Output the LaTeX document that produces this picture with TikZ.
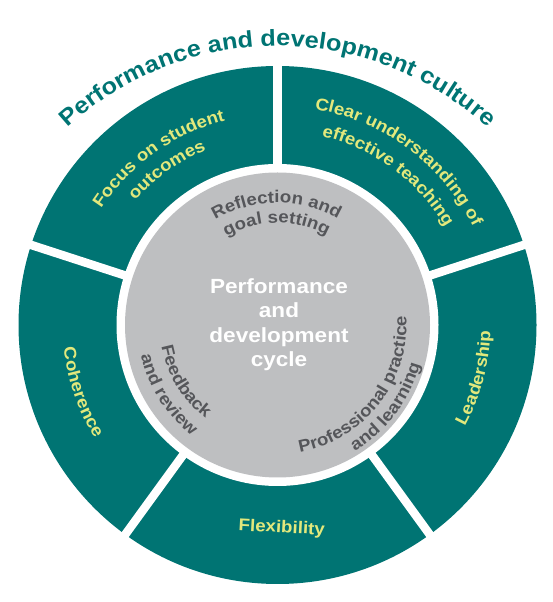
\documentclass[tikz,border=0pt]{standalone}
\usepackage{fontspec}
\usetikzlibrary{decorations.text,calc}
\newfontfamily\lab{Liberation Sans}[FakeStretch=1.1]
\definecolor{teal}{RGB}{0,116,115}
\definecolor{ringgrey}{RGB}{190,191,193}
\definecolor{segy}{RGB}{226,232,124}
\definecolor{darktxt}{RGB}{85,86,90}
\newcommand{\titlefmt}{\lab\bfseries\fontsize{23}{26}\selectfont\color{teal}}
\newcommand{\segfmt}{\lab\bfseries\fontsize{17}{20}\selectfont\color{segy}}
\newcommand{\innfmt}{\lab\bfseries\fontsize{17}{20}\selectfont\color{darktxt}}
\tikzset{
  curved/.style={decorate, decoration={text along path, text align=center, text={#1}}},
  gapline/.style={white, line width=8.5pt},
}
\begin{document}
\begin{tikzpicture}[x=1pt, y=1pt]
\useasboundingbox (0,0) rectangle (552,602);
\begin{scope}[shift={(277.5,277)}]
  % outer ring
  \fill[teal] (0,0) circle[radius=259];
  \foreach \a in {90,162,234,306,18} \draw[gapline] (0,0) -- (\a:275);
  \fill[white] (0,0) circle[radius=161];
  \fill[ringgrey] (0,0) circle[radius=152.5];
  % title
  \path[curved={|\titlefmt|Performance and development culture}]
    ($(0,-32)+(145:311)$) arc[start angle=145, end angle=35, radius=311];
  % segment labels
  \path[curved={|\segfmt|Focus on student}]
    (175.5:211) arc[start angle=175.5, end angle=75.5, radius=211];
  \path[curved={|\segfmt|outcomes}]
    (175.5:189) arc[start angle=175.5, end angle=75.5, radius=189];
  \path[curved={|\segfmt|Clear understanding of}]
    (103.5:219) arc[start angle=103.5, end angle=3.5, radius=219];
  \path[curved={|\segfmt|effective teaching}]
    (103.5:194) arc[start angle=103.5, end angle=3.5, radius=194];
  \path[curved={|\segfmt|Leadership}]
    (-65:213) arc[start angle=-65, end angle=35, radius=213];
  \path[curved={|\segfmt|Coherence}]
    (149:215) arc[start angle=149, end angle=249, radius=215];
  \node[font=\segfmt, rotate=-3, inner sep=0pt] (flex) at (4.2,-203.3) {Flexibility};
  % inner labels
  \path[curved={|\innfmt|Reflection and}]
    (160.5:122) arc[start angle=160.5, end angle=20.5, radius=122];
  \path[curved={|\innfmt|goal setting}]
    (160.5:102) arc[start angle=160.5, end angle=20.5, radius=102];
  \path[curved={|\innfmt|Professional practice}]
    (247:129) arc[start angle=247, end angle=397, radius=129];
  \path[curved={|\innfmt|and learning}]
    (248:148) arc[start angle=248, end angle=398, radius=148];
  \path[curved={|\innfmt|Feedback}]
    (146.5:118) arc[start angle=146.5, end angle=276.5, radius=118];
  \path[curved={|\innfmt|and review}]
    (147.5:140) arc[start angle=147.5, end angle=277.5, radius=140];
  % centre
  \node[font=\lab\bfseries\fontsize{20.5}{24.5}\selectfont, text=white, align=center, inner sep=0pt] (ctr) at (1.5,0.5) {Performance\\and\\development\\cycle};
\end{scope}
\end{tikzpicture}
\end{document}
